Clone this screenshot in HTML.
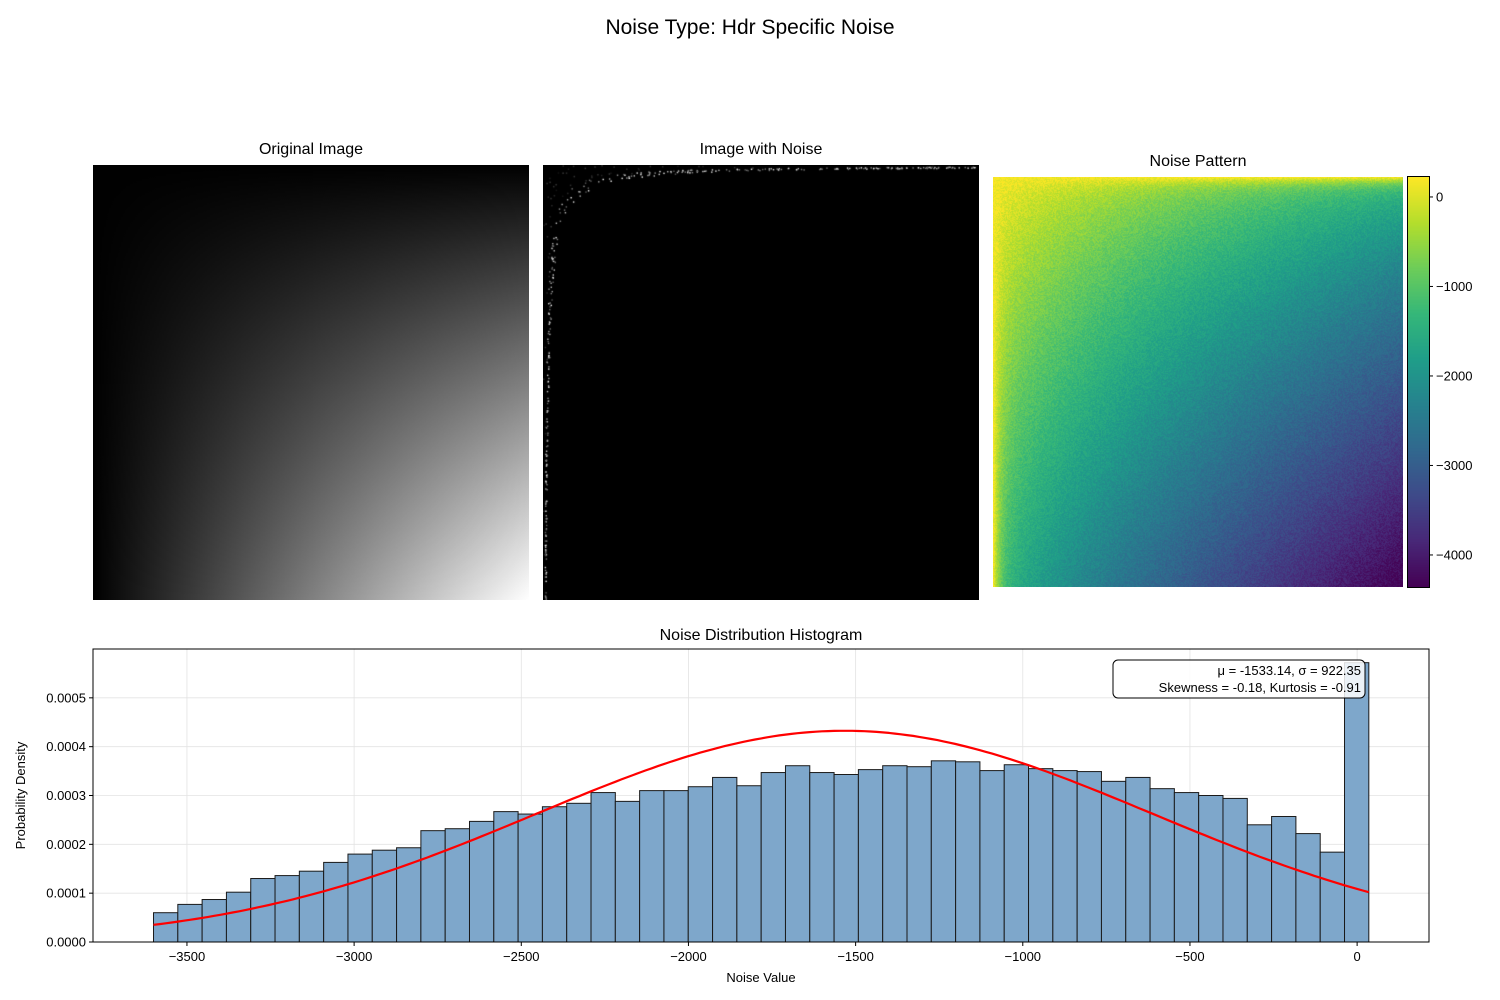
<!DOCTYPE html>
<html><head><meta charset="utf-8">
<style>
body{margin:0;background:#fff;font-family:"Liberation Sans","DejaVu Sans",sans-serif;}
#wrap{position:relative;width:1500px;height:1000px;overflow:hidden;}
.t{position:absolute;white-space:nowrap;color:#000;}
</style></head>
<body>
<div id="wrap">
<div class="t" style="left:0;width:1500px;text-align:center;top:16px;font-size:21px;">Noise Type: Hdr Specific Noise</div>
<div class="t" style="left:93px;width:436px;text-align:center;top:141px;font-size:16px;">Original Image</div>
<div class="t" style="left:543px;width:436px;text-align:center;top:141px;font-size:16px;">Image with Noise</div>
<div class="t" style="left:993px;width:410px;text-align:center;top:153px;font-size:16px;">Noise Pattern</div>
<div style="position:absolute;left:93px;top:165px;width:436px;height:435px;background:linear-gradient(to right,#000,#fff);isolation:isolate;">
 <div style="position:absolute;inset:0;background:linear-gradient(to bottom,#000,#fff);mix-blend-mode:multiply;"></div>
</div>
<canvas id="noisy" width="436" height="435" style="position:absolute;left:543px;top:165px;"></canvas>
<canvas id="pattern" width="410" height="410" style="position:absolute;left:993px;top:177px;"></canvas>
<canvas id="cbar" width="21" height="410" style="position:absolute;left:1408px;top:177px;outline:1px solid #000;"></canvas>
<svg id="cbaxis" width="1500" height="1000" style="position:absolute;left:0;top:0;pointer-events:none;font-size:13px;"></svg>
<svg id="hist" width="1500" height="1000" style="position:absolute;left:0;top:0;font-family:'Liberation Sans','DejaVu Sans',sans-serif;"></svg>
</div>
<script>
const binStart = -3600, binEnd = 35;
const densities = [0.000060,0.000077,0.000087,0.000102,0.000130,0.000136,0.000145,0.000163,0.000180,0.000188,
0.000193,0.000228,0.000232,0.000247,0.000267,0.000262,0.000277,0.000284,0.000306,0.000288,
0.000310,0.000310,0.000318,0.000337,0.000320,0.000347,0.000361,0.000347,0.000343,0.000353,
0.000361,0.000359,0.000371,0.000369,0.000351,0.000363,0.000355,0.000351,0.000349,0.000329,
0.000337,0.000314,0.000306,0.000300,0.000294,0.000240,0.000257,0.000222,0.000184,0.000572];
const xTicks = [-3500,-3000,-2500,-2000,-1500,-1000,-500,0];
const yTicks = [0,0.0001,0.0002,0.0003,0.0004,0.0005];
const yTickLabels = ["0.0000","0.0001","0.0002","0.0003","0.0004","0.0005"];
const mu = -1533.14, sigma = 922.35;
const cbTicks = [0,-1000,-2000,-3000,-4000];
const cbMin = -4358, cbMax = 223;

const NS="http://www.w3.org/2000/svg";
function mk(p,tag,attrs,txt){const e=document.createElementNS(NS,tag);for(const k in attrs)e.setAttribute(k,attrs[k]);if(txt!==undefined)e.textContent=txt;p.appendChild(e);return e;}
const L=93,R=1429,T=649,B=942,xmin=-3781,xmax=215,ymin=0,ymax=0.0006;
const X=v=>L+(v-xmin)/(xmax-xmin)*(R-L);
const Y=v=>B-(v-ymin)/(ymax-ymin)*(B-T);
const h=document.getElementById('hist');
mk(h,'rect',{x:L,y:T,width:R-L,height:B-T,fill:'#fff'});
xTicks.forEach(v=>{const g=mk(h,'line',{x1:X(v),x2:X(v),y1:T,y2:B,stroke:'#e3e3e3','stroke-width':0.8});});
yTicks.forEach(v=>{const g=mk(h,'line',{x1:L,x2:R,y1:Y(v),y2:Y(v),stroke:'#e3e3e3','stroke-width':0.8});});
const bw=(binEnd-binStart)/densities.length;
densities.forEach((d,i)=>{const x0=X(binStart+i*bw),x1=X(binStart+(i+1)*bw);
 const r=mk(h,'rect',{x:x0,y:Y(d),width:x1-x0,height:Y(0)-Y(d),fill:'#7ea7cb',stroke:'#1a1a1a','stroke-width':1});
 
 });
let pts=[];for(let i=0;i<=200;i++){const v=binStart+(binEnd-binStart)*i/200;const d=Math.exp(-0.5*((v-mu)/sigma)**2)/(sigma*Math.sqrt(2*Math.PI));pts.push(X(v).toFixed(1)+','+Y(d).toFixed(1));}
const pl=mk(h,'polyline',{points:pts.join(' '),fill:'none',stroke:'#ff0000','stroke-width':2.2});


mk(h,'rect',{x:L,y:T,width:R-L,height:B-T,fill:'none',stroke:'#000','stroke-width':1});
xTicks.forEach(v=>{mk(h,'line',{x1:X(v),x2:X(v),y1:B,y2:B+4,stroke:'#000'});const t=mk(h,'text',{x:X(v),y:B+19,'text-anchor':'middle','font-size':13},v<0?'\u2212'+(-v):String(v));});
yTicks.forEach((v,i)=>{mk(h,'line',{x1:L-4,x2:L,y1:Y(v),y2:Y(v),stroke:'#000'});const t=mk(h,'text',{x:L-7,y:Y(v)+4.5,'text-anchor':'end','font-size':13},yTickLabels[i]);});
let t=mk(h,'text',{x:(L+R)/2,y:640,'text-anchor':'middle','font-size':16},'Noise Distribution Histogram');
t=mk(h,'text',{x:(L+R)/2,y:982,'text-anchor':'middle','font-size':13},'Noise Value');
t=mk(h,'text',{x:25,y:(T+B)/2,'text-anchor':'middle','font-size':13,transform:'rotate(-90 25 '+((T+B)/2)+')'},'Probability Density');
const box=mk(h,'rect',{x:1113,y:660,width:252,height:38,rx:5,fill:'#fff','fill-opacity':0.85,stroke:'#000','stroke-width':1});

t=mk(h,'text',{x:1361,y:675,'text-anchor':'end','font-size':13},'\u03bc = '+mu.toFixed(2)+', \u03c3 = '+sigma.toFixed(2));
t=mk(h,'text',{x:1361,y:692,'text-anchor':'end','font-size':13},'Skewness = -0.18, Kurtosis = -0.91');

// viridis
const vir=[[68,1,84],[72,40,120],[62,74,137],[49,104,142],[38,130,142],[31,158,137],[53,183,121],[109,205,89],[180,222,44],[253,231,37]];
function vcol(f){f=Math.max(0,Math.min(1,f))*(vir.length-1);const i=Math.min(vir.length-2,Math.floor(f)),r=f-i;return vir[i].map((c,k)=>Math.round(c+(vir[i+1][k]-c)*r));}
let seed=12345;function rnd(){seed=(seed*1103515245+12345)&0x7fffffff;return seed/0x7fffffff;}
const pc=document.getElementById('pattern').getContext('2d');const im=pc.createImageData(410,410);
for(let y=0;y<410;y++)for(let x=0;x<410;x++){const fx=x/409,fy=y/409;
 const g=Math.pow((Math.sqrt(fx)+Math.sqrt(fy))/2,2)*(1-Math.exp(-fx*70))*(1-Math.exp(-fy*70));
 let v=200-4550*g+(rnd()-0.5)*450;const c=vcol((v-cbMin)/(cbMax-cbMin));const o=(y*410+x)*4;im.data[o]=c[0];im.data[o+1]=c[1];im.data[o+2]=c[2];im.data[o+3]=255;}
pc.putImageData(im,0,0);
const cc=document.getElementById('cbar').getContext('2d');
for(let y=0;y<410;y++){const c=vcol(1-y/409);cc.fillStyle='rgb('+c+')';cc.fillRect(0,y,21,1);}
const cb=document.getElementById('cbaxis');
cbTicks.forEach(v=>{const yy=177+(cbMax-v)/(cbMax-cbMin)*410;mk(cb,'line',{x1:1429,x2:1433,y1:yy,y2:yy,stroke:'#000'});const tt=mk(cb,'text',{x:1436,y:yy+4.5,'font-size':13,'font-family':'Liberation Sans,sans-serif'},v<0?'\u2212'+(-v):String(v));});
// noisy image
const nc=document.getElementById('noisy').getContext('2d');nc.fillStyle='#000';nc.fillRect(0,0,436,435);
// dim region inside curve
for(let i=0;i<2500;i++){const x=rnd()*436,y=rnd()*435;if(x*y<700){const g=Math.floor(20+rnd()*40);nc.fillStyle='rgb('+g+','+g+','+g+')';nc.fillRect(x,y,1.5,1.5);}}
// bright speckles along the curve x*y ~ 1000
for(let i=0;i<700;i++){const k=1000*(0.65+rnd()*0.5);let x,y;
 if(rnd()<0.5){x=25+rnd()*411;y=Math.max(1,k/x);}else{y=25+rnd()*410;x=Math.max(1,k/y);}
 if(rnd()<0.5)continue;
 const g=Math.floor(90+rnd()*165);nc.fillStyle='rgb('+g+','+g+','+g+')';nc.fillRect(x,y,1.4,1.4);}
</script>
</body></html>
